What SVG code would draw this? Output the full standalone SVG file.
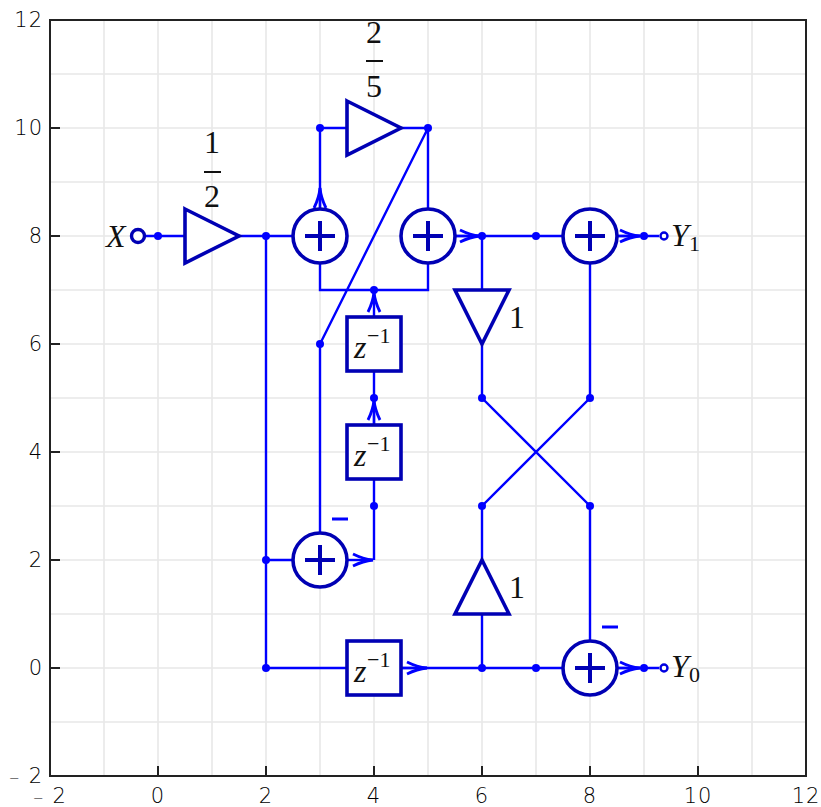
<svg xmlns="http://www.w3.org/2000/svg" width="821" height="807" viewBox="0 0 821 807">
<style>
.g{stroke:#e8e8e8;stroke-width:1.6;fill:none}
.a{stroke:#222;stroke-width:2;fill:none}
.c{stroke:#0000ff;stroke-width:2.4;fill:none}
.s{stroke:#0000b4;stroke-width:3.6;fill:#fff}
.p{stroke:#0000b4;stroke-width:4;fill:none}
.m{stroke:#0000ff;stroke-width:2.8;fill:none}
.d{fill:#0000ff}
.t{font-family:"DejaVu Sans",sans-serif;font-weight:200;font-size:21px;letter-spacing:1px;fill:#000}
.n{font-size:13px}
.f{font-family:"Liberation Serif",serif;font-size:32px;fill:#111}
.sub{font-family:"Liberation Serif",serif;font-size:22px;fill:#111}
.i{font-family:"Liberation Serif",serif;font-size:32px;font-style:italic;fill:#111}
.sup{font-family:"Liberation Serif",serif;font-size:22px;fill:#111}
</style>
<defs>
<marker id="ah" markerUnits="userSpaceOnUse" markerWidth="24" markerHeight="18" refX="21" refY="9" orient="auto"><path d="M1,3 Q11,8 21,9 Q11,10 1,15" fill="none" stroke="#0000ff" stroke-width="2.8"/></marker>
<g id="sum"><circle r="27" class="s"/><path class="p" d="M-15,0H15M0,-15V15"/></g>
</defs>
<g id="grid">
<path class="g" d="M104,20V776M212,20V776M266,20V776M320,20V776M374,20V776M428,20V776M482,20V776M536,20V776M590,20V776M644,20V776M698,20V776M752,20V776M158,20V776M50,74H806M50,128H806M50,182H806M50,236H806M50,290H806M50,344H806M50,398H806M50,452H806M50,506H806M50,560H806M50,614H806M50,668H806M50,722H806"/>
</g>
<g id="axes">
<rect class="a" x="50" y="20" width="756" height="756"/>
<path class="a" d="M50,776v-10M158,776v-10M266,776v-10M374,776v-10M482,776v-10M590,776v-10M698,776v-10M806,776v-10M50,776h10M50,668h10M50,560h10M50,452h10M50,344h10M50,236h10M50,128h10M50,20h10"/>
<g class="t" text-anchor="end">
<text x="43" y="783"><tspan class="n">−</tspan> 2</text><text x="43" y="675">0</text><text x="43" y="567">2</text><text x="43" y="459">4</text><text x="43" y="351">6</text><text x="43" y="243">8</text><text x="43" y="135">10</text><text x="43" y="27">12</text>
</g>
<g class="t" text-anchor="middle">
<text x="50" y="803"><tspan class="n">−</tspan> 2</text><text x="158" y="803">0</text><text x="266" y="803">2</text><text x="374" y="803">4</text><text x="482" y="803">6</text><text x="590" y="803">8</text><text x="698" y="803">10</text><text x="806" y="803">12</text>
</g>
</g>
<g id="connectors">
<path class="c" d="M144,236H185M239,236H293M266,236V668M266,560H293M266,668H347"/>
<path class="c" d="M320,209V128H347M401,128H428V209M428,128L320,344V533M320,263V290H428V263"/>
<path class="c" d="M374,371V425M374,479V560M455,236H563M482,236V290M482,344V398L590,506V641M590,263V398L482,506V560M482,614V668M401,668H563M617,236H659M617,668H659"/>
<path class="c" marker-end="url(#ah)" d="M320,209V188"/>
<path class="c" marker-end="url(#ah)" d="M374,317V292"/>
<path class="c" marker-end="url(#ah)" d="M374,425V400"/>
<path class="c" marker-end="url(#ah)" d="M347,560H373"/>
<path class="c" marker-end="url(#ah)" d="M455,236H480"/>
<path class="c" marker-end="url(#ah)" d="M617,236H640"/>
<path class="c" marker-end="url(#ah)" d="M401,668H427"/>
<path class="c" marker-end="url(#ah)" d="M617,668H640"/>
<g class="d"><circle cx="158" cy="236" r="4"/><circle cx="266" cy="236" r="4"/><circle cx="266" cy="560" r="4"/><circle cx="266" cy="668" r="4"/><circle cx="320" cy="128" r="4"/><circle cx="428" cy="128" r="4"/><circle cx="320" cy="344" r="4"/><circle cx="374" cy="290" r="4"/><circle cx="374" cy="398" r="4"/><circle cx="374" cy="506" r="4"/><circle cx="482" cy="236" r="4"/><circle cx="536" cy="236" r="4"/><circle cx="644" cy="236" r="4"/><circle cx="482" cy="398" r="4"/><circle cx="590" cy="398" r="4"/><circle cx="482" cy="506" r="4"/><circle cx="590" cy="506" r="4"/><circle cx="482" cy="668" r="4"/><circle cx="536" cy="668" r="4"/><circle cx="644" cy="668" r="4"/></g>
<path class="m" d="M332,519H348M602,627H618"/>
</g>
<g id="in-X"><circle cx="138" cy="236" r="6.5" fill="#fff" stroke="#0000b4" stroke-width="3.4"/><text class="i" x="106" y="247">X</text></g>
<g id="out-Y1"><circle cx="664" cy="236" r="3.5" fill="#fff" stroke="#0000e0" stroke-width="2.4"/><text class="i" x="671" y="246">Y</text><text class="sub" x="689" y="251">1</text></g>
<g id="out-Y0"><circle cx="664" cy="668" r="3.5" fill="#fff" stroke="#0000e0" stroke-width="2.4"/><text class="i" x="671" y="677">Y</text><text class="sub" x="689" y="682">0</text></g>
<g id="gain-half"><path class="s" d="M185,209L239,236L185,263Z"/><text class="f" x="212" y="153" text-anchor="middle">1</text><path stroke="#111" stroke-width="2" d="M204,172H221"/><text class="f" x="212" y="207" text-anchor="middle">2</text></g>
<g id="gain-twofifths"><path class="s" d="M347,101L401,128L347,155Z"/><text class="f" x="374" y="43" text-anchor="middle">2</text><path stroke="#111" stroke-width="2" d="M366,61H383"/><text class="f" x="374" y="97" text-anchor="middle">5</text></g>
<g id="gain-down"><path class="s" d="M455,290H509L482,344Z"/><text class="f" x="509" y="328">1</text></g>
<g id="gain-up"><path class="s" d="M482,560L509,614H455Z"/><text class="f" x="509" y="598">1</text></g>
<use id="sum-1" href="#sum" x="320" y="236"/>
<use id="sum-2" href="#sum" x="428" y="236"/>
<use id="sum-3" href="#sum" x="590" y="236"/>
<use id="sum-4" href="#sum" x="320" y="560"/>
<use id="sum-5" href="#sum" x="590" y="668"/>
<g id="delay-1"><rect class="s" x="347" y="317" width="54" height="54"/><text class="i" x="354" y="358">z</text><text class="sup" x="367" y="343">−1</text></g>
<g id="delay-2"><rect class="s" x="347" y="425" width="54" height="54"/><text class="i" x="354" y="466">z</text><text class="sup" x="367" y="451">−1</text></g>
<g id="delay-3"><rect class="s" x="347" y="641" width="54" height="54"/><text class="i" x="354" y="682">z</text><text class="sup" x="367" y="667">−1</text></g>
</svg>
